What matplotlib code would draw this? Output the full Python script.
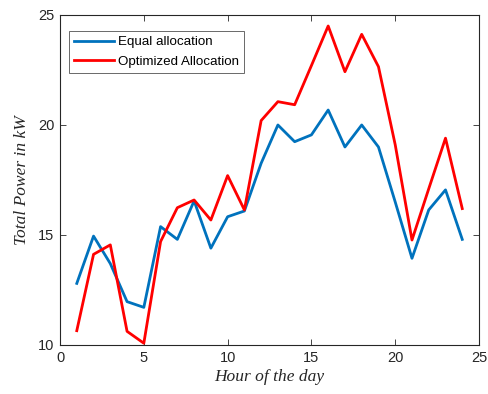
import matplotlib
matplotlib.use("Agg")
import matplotlib.pyplot as plt

hours = list(range(1, 25))
equal_alloc = [12.8, 14.95, 13.7, 11.97, 11.71, 15.38, 14.8, 16.55, 14.4, 15.83, 16.09, 18.26,
               20.0, 19.24, 19.55, 20.68, 19.0, 20.0, 19.0, 16.5, 13.94, 16.14, 17.05, 14.8]
optimized_alloc = [10.65, 14.12, 14.55, 10.62, 10.08, 14.7, 16.24, 16.59, 15.68, 17.7, 16.14, 20.2,
                   21.06, 20.92, 22.7, 24.5, 22.42, 24.12, 22.65, 19.1, 14.77, 17.1, 19.4, 16.2]

plt.rcParams["font.family"] = ["Liberation Sans", "DejaVu Sans"]

fig = plt.figure(figsize=(4.88, 3.94), dpi=100)
ax = fig.add_axes([0.123, 0.1244, 0.8586, 0.8376])

ax.plot(hours, equal_alloc, color="#0072BD", linewidth=2, label="Equal allocation")
ax.plot(hours, optimized_alloc, color="#FF0000", linewidth=2, label="Optimized Allocation")

ax.set_xlim(0, 25)
ax.set_ylim(10, 25)
ax.set_xticks([0, 5, 10, 15, 20, 25])
ax.set_yticks([10, 15, 20, 25])
ax.tick_params(direction="in", top=True, right=True, length=4, width=0.6,
               labelsize=10.5, colors="#262626", pad=4)
for s in ax.spines.values():
    s.set_color("#262626")
    s.set_linewidth(0.8)

serif = dict(family=["Liberation Serif", "DejaVu Serif"], style="italic", size=12.5, color="#262626")
ax.set_xlabel("Hour of the day", fontdict=serif, labelpad=3)
ax.set_ylabel("Total Power in kW", fontdict=serif, labelpad=6)

leg = ax.legend(loc="upper left", bbox_to_anchor=(0.021, 0.952), borderaxespad=0,
                fontsize=9.6, frameon=True, fancybox=False, edgecolor="#262626",
                handlelength=3.0, borderpad=0.4, labelspacing=0.55, handletextpad=0.3)
leg.get_frame().set_linewidth(0.6)

fig.savefig("out.png", dpi=100)
